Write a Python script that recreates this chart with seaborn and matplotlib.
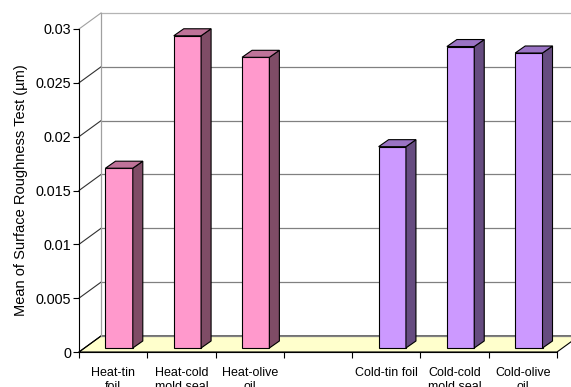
import numpy as np
import pandas as pd
import matplotlib
matplotlib.use("Agg")
import matplotlib.pyplot as plt
from matplotlib.patches import Polygon
from matplotlib.lines import Line2D
from matplotlib.transforms import ScaledTranslation
from matplotlib.ticker import FixedLocator
import seaborn as sns

# ---- data -------------------------------------------------------------
categories = ["Heat-tin\nfoil", "Heat-cold\nmold seal", "Heat-olive\noil", "",
              "Cold-tin foil", "Cold-cold\nmold seal", "Cold-olive\noil"]
heat_labels = ["Heat-tin\nfoil", "Heat-cold\nmold seal", "Heat-olive\noil"]
heat_values = [0.0167, 0.0290, 0.0270]
cold_labels = ["Cold-tin foil", "Cold-cold\nmold seal", "Cold-olive\noil"]
cold_values = [0.0187, 0.0280, 0.0274]
y_ticks = [0, 0.005, 0.01, 0.015, 0.02, 0.025, 0.03]
y_tick_labels = ["0", "0.005", "0.01", "0.015", "0.02", "0.025", "0.03"]
y_label = "Mean of Surface Roughness Test (µm)"

df = pd.DataFrame({
    "treatment": heat_labels + cold_labels,
    "roughness": heat_values + cold_values,
    "group": ["Heat"] * len(heat_values) + ["Cold"] * len(cold_values),
})

# ---- style --------------------------------------------------------------
front_col = {"Heat": "#FF99CC", "Cold": "#CC99FF"}
side_col = {"Heat": "#7F4C66", "Cold": "#664C80"}
top_col = {"Heat": "#BF7399", "Cold": "#9A73C4"}
floor_col = "#FFFFCC"
grid_col = "#808080"

plt.rcParams["font.family"] = ["Liberation Sans", "DejaVu Sans"]

W, H, DPI = 571, 387, 100
fig = plt.figure(figsize=(W / DPI, H / DPI), dpi=DPI)
# front plane of the box, in pixels (left, right, bottom, top)
px_l, px_r, px_b, px_t = 79, 557, 352, 29
ax = fig.add_axes([px_l / W, 1 - px_b / H, (px_r - px_l) / W, (px_b - px_t) / H])

sns.barplot(data=df, x="treatment", y="roughness", hue="group",
            palette=front_col, order=categories, width=0.4, dodge=False,
            legend=False, saturation=1, edgecolor="black", linewidth=0.8,
            ax=ax, zorder=3)

ax.set_xlim(-0.5, len(categories) - 0.5)
ax.set_ylim(y_ticks[0], y_ticks[-1])
ax.set_xlabel("")

# depth of the box and of the bars, in pixels (right, up)
DEPTH = (22, 16)
BAR_FRONT = (6, 4)
BAR_DEPTH = (10, 7)

to_disp = ax.transData.transform
to_data = ax.transData.inverted().transform


def shifted(x, y, dx, dy):
    d = to_disp((x, y)) + np.array([dx, dy])
    return to_data(d)


xa, xb = ax.get_xlim()
ya, yb = ax.get_ylim()

# floor
floor = Polygon([shifted(xa, ya, 0, 0), shifted(xb, ya, 0, 0),
                 shifted(xb, ya, *DEPTH), shifted(xa, ya, *DEPTH)],
                closed=True, facecolor=floor_col, edgecolor="black",
                linewidth=0.8, zorder=1, clip_on=False)
ax.add_patch(floor)

# walls: back gridlines, side-wall diagonals, corner edge
for v in y_ticks:
    bl = shifted(xa, v, *DEPTH)
    br = shifted(xb, v, *DEPTH)
    fl = shifted(xa, v, 0, 0)
    if v == y_ticks[-1]:
        c_back, c_side = "#B4B4B4", "#A0A0A0"
    elif v == y_ticks[0]:
        c_back, c_side = grid_col, "black"
    else:
        c_back, c_side = grid_col, "#303030"
    ax.add_line(Line2D([bl[0], br[0]], [bl[1], br[1]], color=c_back,
                       lw=0.9, zorder=1.5, clip_on=False))
    ax.add_line(Line2D([fl[0], bl[0]], [fl[1], bl[1]], color=c_side,
                       lw=0.8, zorder=1.5, clip_on=False))
c0 = shifted(xa, ya, *DEPTH)
c1 = shifted(xa, yb, *DEPTH)
ax.add_line(Line2D([c0[0], c1[0]], [c0[1], c1[1]], color="#A0A0A0",
                   lw=0.9, zorder=1.5, clip_on=False))

# bars: push front faces into the box and add side and top faces
offset = ScaledTranslation(BAR_FRONT[0] / DPI, BAR_FRONT[1] / DPI,
                           fig.dpi_scale_trans)
bar_groups = {}
for cat, grp in zip(df["treatment"], df["group"]):
    bar_groups[categories.index(cat)] = grp

for p in list(ax.patches):
    if p is floor:
        continue
    h = p.get_height()
    if not np.isfinite(h) or h <= 0:
        continue
    xl = p.get_x()
    w = p.get_width()
    grp = bar_groups[int(round(xl + w / 2))]
    p.set_transform(ax.transData + offset)
    p.set_clip_on(False)
    fx, fy = BAR_FRONT
    bx, by = fx + BAR_DEPTH[0], fy + BAR_DEPTH[1]
    side = Polygon([shifted(xl + w, 0, fx, fy), shifted(xl + w, h, fx, fy),
                    shifted(xl + w, h, bx, by), shifted(xl + w, 0, bx, by)],
                   closed=True, facecolor=side_col[grp], edgecolor="black",
                   linewidth=0.8, zorder=3, clip_on=False)
    topf = Polygon([shifted(xl, h, fx, fy), shifted(xl + w, h, fx, fy),
                    shifted(xl + w, h, bx, by), shifted(xl, h, bx, by)],
                   closed=True, facecolor=top_col[grp], edgecolor="black",
                   linewidth=0.8, zorder=3, clip_on=False)
    ax.add_patch(side)
    ax.add_patch(topf)

# axes lines and ticks
for s in ("top", "right"):
    ax.spines[s].set_visible(False)
for s in ("left", "bottom"):
    ax.spines[s].set_color("black")
    ax.spines[s].set_linewidth(0.8)
    ax.spines[s].set_zorder(4)

ax.set_yticks(y_ticks)
ax.set_yticklabels(y_tick_labels)
ax.tick_params(axis="y", direction="out", length=4.3, width=0.8, pad=1.5,
               labelsize=10.4, colors="black")

ax.set_xticks(range(len(categories)))
ax.set_xticklabels(categories)
ax.xaxis.set_minor_locator(FixedLocator(np.arange(-0.5, len(categories), 1.0)))
ax.tick_params(axis="x", which="major", length=0, pad=10.5, labelsize=9,
               colors="black")
ax.tick_params(axis="x", which="minor", direction="out", length=4.3,
               width=0.8, colors="black")
for t in ax.get_xticklabels():
    t.set_linespacing(1.25)

ax.set_ylabel(y_label, fontsize=10.5, color="black")
ax.yaxis.set_label_coords((28 - px_l) / (px_r - px_l), 0.5)

ax.patch.set_alpha(0)
fig.patch.set_facecolor("white")
fig.savefig("out.png", dpi=DPI)
